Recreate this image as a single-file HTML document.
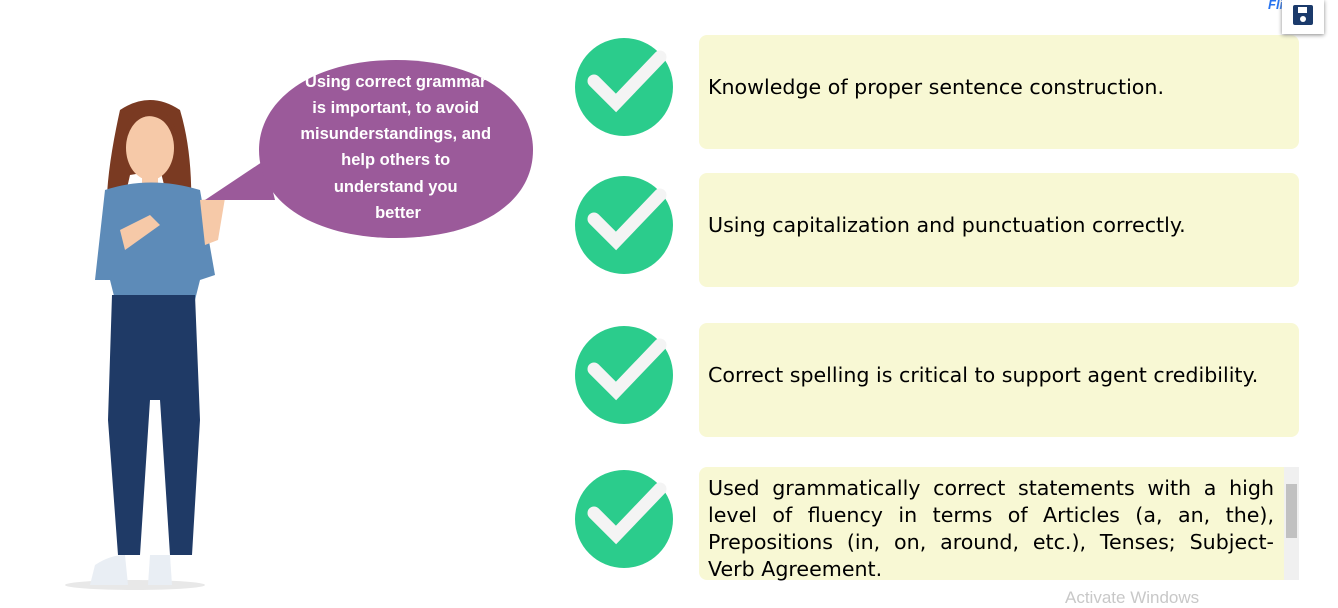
<!DOCTYPE html>
<html><head><meta charset="utf-8"><style>
body{margin:0;width:1338px;height:602px;background:#fff;position:relative;overflow:hidden;font-family:"DejaVu Sans","Liberation Sans",sans-serif}
.box{position:absolute;left:699px;width:600px;background:#f8f8d4;border-radius:8px;font-size:20.6px;color:#000;display:flex;align-items:center;box-sizing:border-box;padding:0 9px 10px 9px}
.chk{position:absolute;left:574px;width:100px;height:100px}
</style></head><body>
<svg style="position:absolute;left:0;top:0" width="560" height="602">
<ellipse cx="135" cy="585" rx="70" ry="5" fill="#e8e8e8"/>
<path d="M120 110 Q150 90 180 110 Q195 160 190 230 Q200 270 195 290 L175 280 Q170 200 160 170 L130 175 Q120 220 110 240 Q100 200 120 110Z" fill="#7a3a22"/>
<ellipse cx="150" cy="148" rx="24" ry="32" fill="#f6c9a8"/>
<path d="M126 130 Q150 100 178 135 Q170 110 150 105 Q128 108 126 130Z" fill="#7a3a22"/>
<rect x="142" y="175" width="16" height="15" fill="#f6c9a8"/>
<path d="M105 190 Q150 175 200 190 L215 275 L200 280 L195 300 L115 300 L110 280 L95 280Z" fill="#5d8bb8"/>
<path d="M112 295 L195 295 L200 420 L192 555 L170 555 L160 400 L150 400 L140 555 L118 555 L108 420Z" fill="#1f3a66"/>
<path d="M95 565 Q110 555 125 555 L128 585 L90 585Z" fill="#e9eef4"/>
<path d="M150 555 L170 555 L172 585 L148 585Z" fill="#e9eef4"/>
<path d="M200 200 L225 198 L218 240 L205 245Z" fill="#f6c9a8"/>
<path d="M120 230 L150 215 L160 225 L125 250Z" fill="#f6c9a8"/>
</svg>
<svg style="position:absolute;left:0;top:0" width="560" height="260">
<path d="M205 200 L265 160 L275 200Z" fill="#9b5a9a"/>
<path d="M396 60 C480 60 533 100 533 150 C533 205 475 238 396 238 C318 238 259 205 259 150 C259 100 312 60 396 60Z" fill="#9b5a9a"/>
<text font-family="Liberation Sans,sans-serif" font-weight="bold" font-size="16.5" fill="#fff" text-anchor="middle">
<tspan x="398" y="87">Using correct grammar</tspan>
<tspan x="398" y="113">is important, to avoid</tspan>
<tspan x="398" y="139">misunderstandings, and</tspan>
<tspan x="398" y="165">help others to</tspan>
<tspan x="398" y="192">understand you</tspan>
<tspan x="398" y="218">better</tspan>
</text></svg>

<svg class="chk" style="top:37px" viewBox="0 0 100 100"><circle cx="50" cy="50" r="49" fill="#2bcc8c"/><path d="M20 44 L42 66 L86 20" stroke="#f4f4f4" stroke-width="13" fill="none" stroke-linecap="round"/></svg>
<svg class="chk" style="top:175px" viewBox="0 0 100 100"><circle cx="50" cy="50" r="49" fill="#2bcc8c"/><path d="M20 44 L42 66 L86 20" stroke="#f4f4f4" stroke-width="13" fill="none" stroke-linecap="round"/></svg>
<svg class="chk" style="top:325px" viewBox="0 0 100 100"><circle cx="50" cy="50" r="49" fill="#2bcc8c"/><path d="M20 44 L42 66 L86 20" stroke="#f4f4f4" stroke-width="13" fill="none" stroke-linecap="round"/></svg>
<svg class="chk" style="top:469px" viewBox="0 0 100 100"><circle cx="50" cy="50" r="49" fill="#2bcc8c"/><path d="M20 44 L42 66 L86 20" stroke="#f4f4f4" stroke-width="13" fill="none" stroke-linecap="round"/></svg>

<div class="box" style="top:35px;height:114px">Knowledge of proper sentence construction.</div>
<div class="box" style="top:173px;height:114px">Using capitalization and punctuation correctly.</div>
<div class="box" style="top:323px;height:114px">Correct spelling is critical to support agent credibility.</div>
<div class="box" style="top:467px;height:113px;align-items:flex-start;padding-top:8px;padding-right:25px;text-align:justify;line-height:27px;border-radius:8px 0 0 8px">Used grammatically correct statements with a high level of fluency in terms of Articles (a, an, the), Prepositions (in, on, around, etc.), Tenses; Subject-Verb Agreement.</div>
<div style="position:absolute;left:1284px;top:467px;width:15px;height:113px;background:#f0f0f0"><div style="position:absolute;left:2px;top:17px;width:11px;height:54px;background:#c1c1c1"></div></div>

<div style="position:absolute;left:1268px;top:-3px;font:italic bold 13px 'Liberation Sans',sans-serif;color:#2874f0">Flipkart</div>
<div style="position:absolute;left:1282px;top:0;width:42px;height:34px;background:#fff;box-shadow:0 1px 4px #888"><div style="position:absolute;left:11px;top:5px;width:20px;height:20px;background:#1b3a6b;border-radius:2px"><div style="position:absolute;left:5px;top:2px;width:9px;height:6px;background:#fff"></div><div style="position:absolute;left:7px;top:11px;width:6px;height:6px;border-radius:50%;background:#fff"></div></div></div>
<div style="position:absolute;left:1065px;top:588px;font:17px 'Liberation Sans',sans-serif;color:#c8c8c8">Activate Windows</div>
</body></html>
